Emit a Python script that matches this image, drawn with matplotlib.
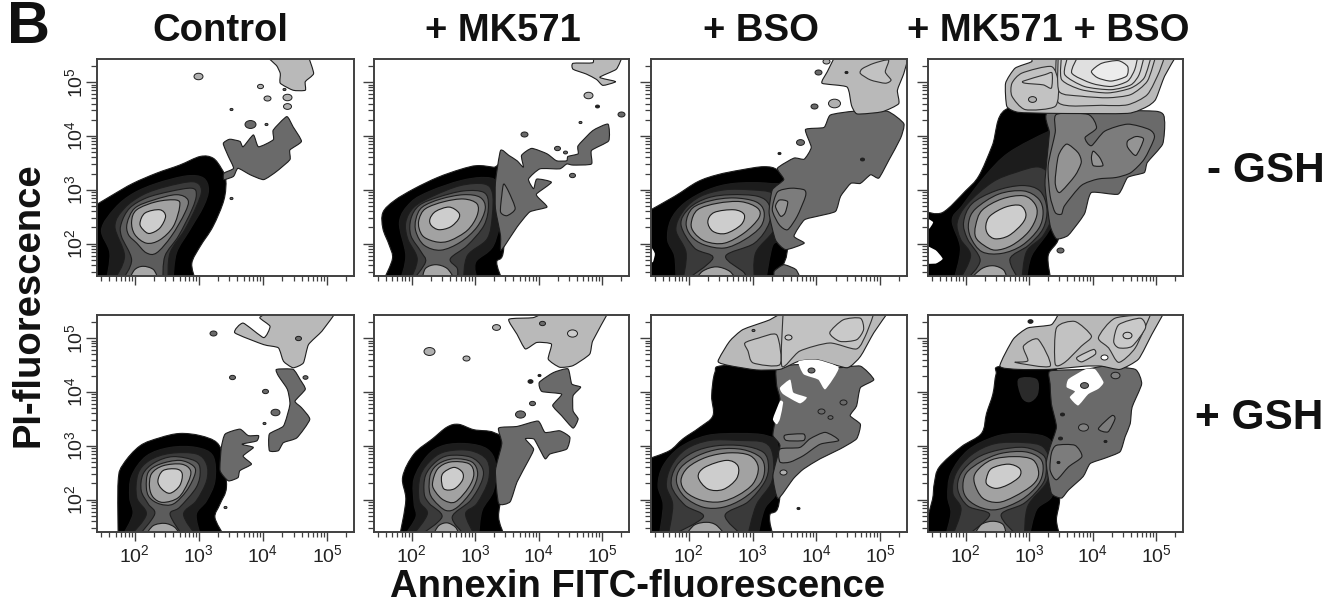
import numpy as np
import matplotlib
matplotlib.use("Agg")
import matplotlib.pyplot as plt
from matplotlib.markers import MarkerStyle
from matplotlib.patches import PathPatch
from matplotlib.path import Path
from matplotlib.ticker import LogLocator, NullFormatter
from matplotlib.transforms import Affine2D

plt.rcParams['font.family'] = ['Liberation Sans', 'DejaVu Sans']

# all contours are (log10 annexin, log10 PI)
column_titles = ['Control', '+ MK571', '+ BSO', '+ MK571 + BSO']
row_titles = ['- GSH', '+ GSH']

# ---------- top row, Control ----------
a1_main = [
    [(1.38,2.71),(1.66,2.91),(1.97,3.12),(2.34,3.31),(2.70,3.46),(3.02,3.62),(3.22,3.59),(3.35,3.40),(3.42,3.19),(3.39,2.81),(3.22,2.32),(3.02,1.95),(2.89,1.64),(2.94,1.35),(1.38,1.35)],
    [(1.48,2.26),(1.69,2.66),(1.97,2.93),(2.34,3.12),(2.81,3.26),(3.07,3.22),(3.15,3.00),(3.07,2.69),(2.86,2.26),(2.65,1.83),(2.60,1.35),(1.56,1.35),(1.61,1.83)],
    [(1.69,2.32),(1.84,2.66),(2.13,2.91),(2.49,3.06),(2.91,3.15),(3.04,3.00),(2.96,2.69),(2.78,2.26),(2.55,1.83),(2.52,1.35),(1.69,1.35),(1.84,1.77)],
    [(1.79,2.38),(1.92,2.66),(2.18,2.85),(2.55,2.97),(2.89,3.03),(2.96,2.91),(2.89,2.63),(2.68,2.14),(2.47,1.77),(2.44,1.35),(1.82,1.35),(1.95,1.70),(1.79,2.14)],
    [(1.88,2.38),(2.00,2.66),(2.29,2.81),(2.65,2.91),(2.83,2.81),(2.78,2.57),(2.57,2.14),(2.34,1.83),(2.18,1.83),(2.03,2.01),(1.90,2.17)],
    [(1.95,2.41),(2.03,2.63),(2.34,2.78),(2.65,2.81),(2.70,2.69),(2.60,2.32),(2.39,2.07),(2.18,2.01),(2.00,2.17)],
    [(2.08,2.38),(2.16,2.57),(2.39,2.63),(2.48,2.51),(2.39,2.29),(2.23,2.19),(2.13,2.26)],
    [(1.92,1.35),(2.00,1.52),(2.13,1.58),(2.29,1.52),(2.36,1.35)],
]
a1_mid = [
    [(3.38,3.86),(3.48,3.94),(3.64,3.90),(3.69,3.80),(3.85,4.02),(3.93,3.80),(4.16,3.93),(4.16,4.11),(4.37,4.36),(4.47,4.17),(4.60,3.90),(4.42,3.74),(4.42,3.56),(4.21,3.34),(4.01,3.19),(3.80,3.28),(3.61,3.40),(3.54,3.25),(3.39,3.19),(3.39,3.31),(3.54,3.40),(3.46,3.62)],
]
a1_light = [
    [(4.06,5.47),(4.71,5.47),(4.79,5.16),(4.66,5.01),(4.66,4.85),(4.47,4.85),(4.27,4.98),(4.27,5.16),(4.21,5.31)],
]
a1_mid_levels = []
a1_light_levels = []
a1_holes = []
a1_spots = [(2.98,5.12,9,'l'),(3.96,4.92,6,'l'),(4.06,4.70,7,'l'),(4.32,4.88,3,'m'),(4.38,4.73,9,'l'),(3.50,4.50,3,'m'),(3.80,4.23,11,'m'),(4.05,4.22,3,'m'),(4.38,4.55,8,'l'),(3.50,2.85,3,'m')]

# ---------- top row, + MK571 ----------
a2_main = [
    [(1.55,2.58),(1.73,2.80),(2.04,3.02),(2.41,3.23),(2.77,3.38),(3.03,3.45),(3.29,3.42),(3.45,3.38),(3.45,1.91),(3.34,1.66),(3.42,1.35),(1.57,1.35),(1.70,1.72),(1.65,1.97),(1.55,2.28)],
    [(1.81,2.40),(1.99,2.77),(2.30,2.98),(2.77,3.17),(3.14,3.23),(3.34,3.14),(3.42,2.65),(3.29,1.97),(3.01,1.66),(3.03,1.35),(1.83,1.35),(1.91,1.78)],
    [(1.91,2.40),(2.04,2.68),(2.35,2.89),(2.77,3.08),(3.14,3.11),(3.27,2.95),(3.27,2.52),(3.19,2.09),(2.88,1.78),(2.82,1.35),(1.99,1.35),(2.09,1.72),(1.94,2.09)],
    [(1.99,2.46),(2.12,2.71),(2.41,2.86),(2.82,2.98),(3.14,2.95),(3.21,2.71),(3.14,2.34),(2.88,1.97),(2.61,1.72),(2.72,1.54),(2.72,1.35),(2.04,1.35),(2.22,1.66),(2.15,1.85),(1.99,2.15)],
    [(2.07,2.46),(2.17,2.68),(2.46,2.83),(2.82,2.91),(3.08,2.86),(3.16,2.65),(3.03,2.31),(2.77,2.03),(2.46,1.88),(2.20,1.97),(2.07,2.22)],
    [(2.12,2.46),(2.22,2.65),(2.51,2.78),(2.82,2.83),(3.03,2.74),(3.03,2.52),(2.88,2.25),(2.61,2.06),(2.41,2.03),(2.20,2.12),(2.12,2.28)],
    [(2.29,2.46),(2.38,2.60),(2.59,2.68),(2.74,2.58),(2.74,2.46),(2.61,2.31),(2.43,2.26),(2.31,2.34)],
    [(2.17,1.35),(2.22,1.54),(2.38,1.61),(2.56,1.54),(2.67,1.35)],
]
a2_mid = [
    [(3.32,3.14),(3.40,3.73),(3.53,3.64),(3.66,3.54),(3.76,3.42),(3.73,3.64),(3.89,3.77),(4.13,3.67),(4.28,3.54),(4.44,3.54),(4.46,3.62),(4.62,3.67),(4.62,3.82),(4.85,4.10),(5.09,4.22),(5.10,3.91),(4.83,3.73),(4.83,3.48),(4.54,3.46),(4.44,3.48),(4.33,3.39),(4.02,3.39),(3.84,3.20),(3.92,3.02),(3.97,3.20),(4.20,3.14),(3.97,2.93),(3.99,2.86),(4.13,2.68),(3.86,2.59),(3.66,2.31),(3.47,1.97),(3.40,1.88),(3.40,2.15),(3.32,2.65)],
]
a2_light = [
    [(4.85,5.49),(5.32,5.49),(5.22,5.24),(4.96,5.09),(5.21,5.01),(5.01,4.94),(4.91,5.05),(4.75,5.15),(4.54,5.24),(4.54,5.35),(4.85,5.36)],
]
a2_mid_levels = [[[(3.45,3.11),(3.53,2.96),(3.63,2.65),(3.50,2.52),(3.40,2.59),(3.42,2.90)]]]
a2_light_levels = []
a2_holes = []
a2_spots = [(4.77,4.76,9,'l'),(4.91,4.55,4,'k'),(5.30,4.41,7,'m'),(3.77,4.04,7,'m'),(4.65,4.26,3,'m'),(4.29,3.77,6,'m'),(4.41,3.70,4,'m'),(4.53,3.28,6,'m')]

# ---------- top row, + BSO ----------
a3_main = [
    [(1.36,2.60),(1.78,2.88),(2.14,3.15),(2.45,3.28),(2.82,3.37),(3.18,3.43),(3.39,3.37),(3.55,3.12),(3.55,1.95),(3.47,1.58),(3.34,1.33),(1.36,1.33)],
    [(1.67,2.07),(1.72,2.44),(1.93,2.75),(2.30,3.00),(2.71,3.12),(3.26,3.12),(3.47,3.00),(3.44,2.14),(3.31,1.95),(3.21,1.33),(1.80,1.33),(1.78,1.77)],
    [(1.80,2.26),(1.93,2.63),(2.19,2.88),(2.56,3.00),(2.97,3.00),(3.31,2.94),(3.39,2.69),(3.34,2.26),(3.05,1.83),(3.03,1.33),(1.91,1.33),(1.96,1.83)],
    [(1.88,2.35),(2.01,2.66),(2.30,2.85),(2.66,2.91),(3.08,2.88),(3.26,2.72),(3.26,2.38),(3.03,2.01),(2.58,1.77),(2.87,1.46),(2.87,1.33),(1.96,1.33),(2.38,1.73),(2.09,1.92)],
    [(1.96,2.38),(2.06,2.66),(2.35,2.80),(2.71,2.85),(3.05,2.78),(3.18,2.60),(3.13,2.32),(2.87,2.07),(2.56,1.92),(2.24,1.98),(2.04,2.14)],
    [(2.04,2.38),(2.14,2.63),(2.45,2.75),(2.82,2.78),(3.08,2.66),(3.10,2.48),(2.87,2.20),(2.56,2.01),(2.27,2.04),(2.09,2.20)],
    [(2.30,2.41),(2.40,2.58),(2.71,2.63),(2.87,2.54),(2.82,2.35),(2.58,2.19),(2.38,2.23)],
    [(2.11,1.33),(2.22,1.49),(2.43,1.57),(2.64,1.49),(2.74,1.33)],
]
a3_mid = [
    [(3.39,3.40),(3.65,3.59),(3.81,3.57),(3.92,3.79),(3.83,4.12),(4.12,4.16),(4.22,4.39),(4.59,4.46),(5.11,4.46),(5.37,4.23),(5.32,3.96),(5.14,3.56),(4.98,3.22),(4.85,3.28),(4.69,3.12),(4.54,3.12),(4.38,2.88),(4.30,2.60),(4.02,2.51),(3.81,2.44),(3.65,2.14),(3.81,2.01),(3.52,1.89),(3.36,2.07),(3.26,2.57),(3.31,3.00),(3.49,3.19)],
    [(3.34,1.49),(3.49,1.61),(3.68,1.52),(3.76,1.33),(3.34,1.33)],
]
a3_light = [
    [(4.30,5.50),(5.45,5.50),(5.37,5.16),(5.27,4.85),(5.29,4.60),(5.03,4.45),(4.64,4.41),(4.55,4.57),(4.48,4.91),(4.09,4.98),(4.17,5.19)],
]
a3_mid_levels = [
    [[(3.39,2.96),(3.60,3.03),(3.81,3.00),(3.83,2.88),(3.70,2.51),(3.55,2.26),(3.42,2.35),(3.31,2.63)]],
    [[(3.42,2.81),(3.55,2.78),(3.51,2.57),(3.44,2.51),(3.36,2.69)]],
]
a3_light_levels = [[[(4.72,5.25),(4.90,5.35),(5.13,5.41),(5.08,5.19),(5.17,5.04),(5.08,4.98),(4.85,5.04),(4.69,5.16)]]]
a3_holes = [[(1.38,2.00),(1.47,1.82),(1.44,1.66),(1.38,1.66)]]
a3_spots = [(4.28,4.62,12,'l'),(3.97,4.56,7,'m'),(4.02,5.19,7,'m'),(3.74,3.88,8,'m'),(3.41,3.68,3,'k'),(4.72,3.57,4,'k'),(4.46,5.18,3,'k'),(4.15,5.40,7,'l')]

# ---------- top row, + MK571 + BSO ----------
a4_main = [
    [(1.37,2.60),(1.64,2.58),(2.00,2.98),(2.21,3.26),(2.42,3.82),(2.63,4.49),(3.41,4.49),(3.41,2.52),(3.46,2.09),(3.30,1.78),(3.34,1.35),(1.37,1.35)],
    [(1.79,2.43),(1.95,2.71),(2.31,3.26),(2.68,3.69),(3.28,4.07),(3.41,4.07),(3.41,2.58),(3.30,2.22),(3.04,1.78),(2.96,1.35),(1.82,1.35),(1.92,1.91)],
    [(1.87,2.40),(2.03,2.74),(2.42,3.14),(2.78,3.32),(3.17,3.42),(3.38,3.14),(3.38,2.58),(3.22,2.15),(2.96,1.85),(2.89,1.35),(1.92,1.35),(2.08,1.78),(1.92,2.09)],
    [(1.97,2.40),(2.10,2.74),(2.47,2.98),(2.89,3.08),(3.17,2.98),(3.28,2.65),(3.22,2.28),(2.99,1.97),(2.70,1.72),(2.83,1.35),(2.03,1.35),(2.23,1.69),(2.03,2.09)],
    [(2.05,2.40),(2.16,2.65),(2.52,2.92),(2.91,2.98),(3.15,2.83),(3.22,2.58),(3.15,2.28),(2.89,1.97),(2.57,1.82),(2.26,1.85),(2.08,2.12)],
    [(2.16,2.34),(2.26,2.62),(2.57,2.83),(2.91,2.89),(3.09,2.74),(3.12,2.52),(2.99,2.22),(2.73,1.97),(2.47,1.88),(2.29,1.97),(2.16,2.12)],
    [(2.32,2.34),(2.39,2.52),(2.63,2.68),(2.86,2.71),(2.95,2.55),(2.89,2.37),(2.68,2.15),(2.47,2.09),(2.35,2.18)],
    [(2.08,1.35),(2.26,1.54),(2.44,1.59),(2.60,1.51),(2.65,1.35)],
]
a4_mid = [
    [(3.33,4.46),(4.99,4.46),(5.13,4.28),(5.10,3.85),(4.86,3.51),(4.81,3.32),(4.55,3.23),(4.40,2.92),(3.98,2.95),(3.88,2.58),(3.80,2.43),(3.61,2.15),(3.43,2.09),(3.33,2.34),(3.25,3.08),(3.28,3.57),(3.32,4.06)],
]
a4_light = [
    [(3.02,5.48),(5.31,5.48),(5.13,5.11),(4.99,4.68),(4.86,4.55),(4.55,4.42),(3.41,4.42),(2.83,4.44),(2.65,4.55),(2.63,4.98),(2.78,5.26),(3.04,5.38)],
]
a4_mid_levels = [
    [[(3.43,4.40),(3.93,4.40),(4.06,4.15),(3.88,3.97),(3.98,3.82),(4.19,4.09),(4.55,4.22),(4.89,4.12),(4.97,3.97),(4.81,3.57),(4.60,3.32),(4.37,3.23),(4.08,3.20),(3.82,3.08),(3.56,2.71),(3.51,2.55),(3.41,2.58),(3.33,2.89),(3.30,3.45),(3.41,4.06)]],
    [[(3.59,3.85),(3.77,3.69),(3.82,3.51),(3.72,3.26),(3.48,2.95),(3.41,3.14),(3.46,3.63)],
     [(4.55,3.91),(4.68,3.99),(4.80,3.94),(4.68,3.64),(4.55,3.79)],
     [(4.01,3.72),(4.11,3.60),(4.16,3.45),(4.01,3.45),(3.98,3.60)]],
]
a4_light_levels = [
    [[(3.46,4.62),(4.14,4.57),(4.55,4.58),(4.86,4.77),(5.05,5.20),(5.13,5.48),(3.43,5.48)],
     [(2.73,4.98),(2.89,5.17),(3.35,5.29),(3.46,4.98),(3.41,4.55),(2.94,4.49),(2.73,4.74)]],
    [[(3.47,4.83),(3.82,4.74),(4.24,4.71),(4.60,4.77),(4.86,5.02),(4.99,5.48),(3.46,5.48)],
     [(2.91,5.02),(3.25,5.14),(3.36,5.17),(3.35,4.89),(3.22,4.95),(2.94,4.98)]],
    [[(3.51,5.05),(3.82,4.86),(4.24,4.80),(4.60,4.89),(4.81,5.08),(4.92,5.48),(3.51,5.48)]],
    [[(3.56,5.14),(3.87,4.92),(4.29,4.86),(4.60,4.95),(4.73,5.14),(4.81,5.48),(3.61,5.48)]],
    [[(3.67,5.17),(3.98,4.98),(4.29,4.92),(4.55,5.02),(4.66,5.23),(4.71,5.48),(3.77,5.48)]],
    [[(3.98,5.20),(4.14,5.35),(4.40,5.40),(4.55,5.29),(4.53,5.11),(4.29,5.02),(4.08,5.08)]],
]
a4_holes = [
    [(1.37,2.49),(1.49,2.40),(1.43,2.28),(1.37,2.28)],
    [(1.37,1.97),(1.53,1.88),(1.64,1.72),(1.53,1.63),(1.37,1.63)],
]
a4_spots = [(3.04,4.69,8,'l'),(3.48,1.88,7,'m')]

# ---------- bottom row, Control ----------
b1_main = [
    [(1.74,1.36),(1.74,2.35),(1.82,2.66),(2.08,3.00),(2.39,3.15),(2.70,3.23),(3.02,3.19),(3.28,3.06),(3.38,2.78),(3.43,2.23),(3.33,1.92),(3.25,1.67),(3.38,1.36)],
    [(1.92,2.04),(1.95,2.44),(2.18,2.81),(2.55,2.97),(2.96,2.97),(3.22,2.81),(3.25,2.35),(3.12,1.98),(2.96,1.73),(3.02,1.36),(1.82,1.36),(1.97,1.73)],
    [(2.03,2.04),(2.05,2.48),(2.23,2.73),(2.55,2.86),(2.96,2.85),(3.12,2.66),(3.12,2.35),(2.96,1.98),(2.76,1.73),(2.94,1.36),(1.95,1.36),(2.18,1.73)],
    [(2.10,2.17),(2.13,2.48),(2.31,2.69),(2.60,2.80),(2.94,2.72),(3.02,2.54),(2.96,2.23),(2.70,1.86),(2.55,1.73),(2.73,1.36),(2.08,1.36),(2.31,1.73),(2.21,1.92)],
    [(2.18,2.23),(2.21,2.51),(2.39,2.66),(2.70,2.73),(2.91,2.63),(2.94,2.48),(2.81,2.17),(2.60,1.92),(2.39,1.92),(2.23,2.04)],
    [(2.23,2.23),(2.26,2.48),(2.44,2.63),(2.73,2.66),(2.87,2.54),(2.83,2.32),(2.68,2.04),(2.44,1.95),(2.29,2.04)],
    [(2.36,2.35),(2.44,2.54),(2.65,2.57),(2.74,2.48),(2.70,2.26),(2.55,2.12),(2.42,2.20)],
    [(2.18,1.36),(2.29,1.52),(2.47,1.56),(2.62,1.49),(2.70,1.36)],
]
b1_mid = [
    [(3.41,3.22),(3.64,3.31),(3.77,3.19),(3.93,3.19),(3.90,3.09),(3.67,3.03),(3.85,2.97),(3.69,2.81),(3.82,2.66),(3.64,2.54),(3.61,2.41),(3.46,2.35),(3.33,2.54),(3.35,2.97)],
    [(4.21,4.42),(4.47,4.42),(4.58,4.23),(4.66,4.05),(4.50,3.83),(4.60,3.71),(4.73,3.49),(4.53,3.15),(4.32,3.06),(4.24,2.91),(4.10,2.91),(4.10,3.22),(4.32,3.37),(4.42,3.77),(4.38,4.05),(4.24,4.30)],
]
b1_light = [
    [(4.11,5.50),(5.15,5.50),(4.92,5.13),(4.71,4.88),(4.63,4.54),(4.47,4.45),(4.32,4.57),(4.24,4.82),(4.01,4.88),(3.56,5.10),(3.69,5.28),(4.01,5.01),(4.11,5.22),(3.95,5.38)],
]
b1_mid_levels = []
b1_light_levels = []
b1_holes = []
b1_spots = [(3.22,5.09,7,'m'),(4.55,5.01,6,'m'),(3.52,4.28,6,'m'),(4.03,4.02,6,'m'),(4.18,3.63,9,'m'),(4.02,3.42,3,'m'),(3.41,1.87,3,'m'),(4.66,4.28,5,'m')]

# ---------- bottom row, + MK571 ----------
b2_main = [
    [(1.82,1.37),(1.91,1.99),(1.86,2.42),(2.04,2.85),(2.33,3.13),(2.56,3.35),(2.74,3.40),(2.98,3.30),(3.29,3.25),(3.45,3.04),(3.42,2.17),(3.37,1.68),(3.45,1.37)],
    [(2.04,1.93),(2.04,2.39),(2.25,2.82),(2.51,3.01),(2.88,3.04),(3.19,2.94),(3.32,2.67),(3.29,2.17),(3.11,1.80),(3.06,1.37),(1.91,1.37),(2.07,1.68)],
    [(2.12,1.99),(2.14,2.45),(2.33,2.76),(2.56,2.90),(2.93,2.91),(3.19,2.73),(3.21,2.36),(3.03,1.93),(2.85,1.74),(2.98,1.37),(2.04,1.37),(2.25,1.74)],
    [(2.20,2.11),(2.22,2.45),(2.38,2.70),(2.59,2.82),(2.93,2.79),(3.11,2.60),(3.11,2.36),(2.93,1.99),(2.64,1.68),(2.82,1.37),(2.17,1.37),(2.48,1.68),(2.28,1.93)],
    [(2.28,2.17),(2.30,2.48),(2.43,2.67),(2.67,2.76),(2.95,2.70),(3.04,2.48),(2.95,2.17),(2.72,1.86),(2.54,1.80),(2.35,1.99)],
    [(2.33,2.30),(2.41,2.57),(2.61,2.70),(2.90,2.67),(2.98,2.48),(2.90,2.23),(2.69,1.96),(2.51,1.99),(2.38,2.14)],
    [(2.47,2.39),(2.51,2.51),(2.67,2.60),(2.80,2.51),(2.80,2.36),(2.67,2.20),(2.51,2.20)],
    [(2.35,1.37),(2.43,1.52),(2.56,1.57),(2.69,1.49),(2.74,1.37)],
]
b2_mid = [
    [(3.37,3.33),(3.66,3.36),(3.99,3.46),(4.10,3.25),(4.33,3.28),(4.49,3.16),(4.44,2.94),(4.18,2.85),(4.10,2.76),(3.97,3.04),(3.92,3.13),(3.79,3.13),(3.92,2.94),(3.84,2.73),(3.66,2.33),(3.55,1.96),(3.37,1.93),(3.32,2.54),(3.42,3.04)],
    [(4.46,4.43),(4.52,4.15),(4.66,4.09),(4.54,3.93),(4.54,3.65),(4.62,3.50),(4.54,3.33),(4.36,3.56),(4.22,3.75),(4.36,3.96),(4.05,4.01),(4.01,4.18),(4.23,4.36)],
]
b2_light = [
    [(3.53,5.35),(3.91,5.38),(4.07,5.47),(5.09,5.47),(4.85,4.95),(4.80,4.70),(4.54,4.49),(4.33,4.46),(4.15,4.61),(4.20,4.89),(3.97,4.92),(3.79,4.80),(3.66,5.07)],
]
b2_mid_levels = []
b2_light_levels = []
b2_holes = []
b2_spots = [(4.52,5.10,10,'c'),(2.28,4.77,11,'l'),(2.85,4.63,7,'l'),(3.33,5.20,8,'l'),(4.05,5.29,6,'m'),(3.86,4.21,5,'k'),(4.00,4.31,3,'k'),(3.89,3.79,6,'m'),(3.70,3.59,10,'m')]

# ---------- bottom row, + BSO ----------
b3_main = [
    [(1.37,2.76),(1.70,2.91),(1.91,3.13),(2.17,3.34),(2.38,3.56),(2.36,3.93),(2.41,4.36),(2.54,4.49),(3.43,4.49),(3.43,2.08),(3.27,1.71),(3.32,1.35),(1.37,1.35)],
    [(1.52,2.26),(1.60,2.63),(1.86,2.97),(2.28,3.19),(2.80,3.23),(3.22,3.19),(3.40,3.00),(3.40,2.20),(3.19,1.83),(3.09,1.35),(1.54,1.35),(1.60,1.90)],
    [(1.65,2.26),(1.73,2.63),(1.96,2.94),(2.33,3.10),(2.80,3.10),(3.19,3.06),(3.32,2.82),(3.30,2.33),(3.06,1.90),(2.93,1.35),(1.68,1.35),(1.75,1.90)],
    [(1.73,2.26),(1.81,2.63),(2.07,2.88),(2.43,3.00),(2.85,3.00),(3.17,2.88),(3.25,2.63),(3.19,2.33),(2.93,1.96),(2.57,1.71),(2.83,1.35),(1.75,1.35),(2.23,1.68),(1.94,1.90)],
    [(1.81,2.33),(1.88,2.60),(2.15,2.82),(2.49,2.94),(2.85,2.93),(3.12,2.79),(3.19,2.57),(3.12,2.30),(2.85,2.02),(2.54,1.86),(2.23,1.86),(1.94,2.05)],
    [(1.88,2.36),(1.99,2.60),(2.28,2.79),(2.64,2.87),(2.96,2.82),(3.09,2.60),(3.01,2.30),(2.77,2.08),(2.49,1.96),(2.20,1.99),(1.96,2.14)],
    [(2.15,2.42),(2.25,2.60),(2.59,2.73),(2.77,2.63),(2.75,2.39),(2.54,2.19),(2.30,2.20)],
    [(1.96,1.35),(2.09,1.53),(2.28,1.58),(2.43,1.53),(2.57,1.35)],
]
b3_mid = [
    [(3.38,4.45),(3.74,4.51),(4.32,4.45),(4.69,4.48),(4.90,4.23),(4.69,4.08),(4.63,3.74),(4.53,3.56),(4.69,3.40),(4.63,3.13),(4.37,2.94),(4.06,2.76),(3.80,2.57),(3.64,2.39),(3.40,2.02),(3.32,2.45),(3.43,3.00),(3.32,3.19),(3.35,3.43),(3.43,3.86),(3.38,4.11)],
]
b3_light = [
    [(2.46,4.57),(2.64,4.94),(2.85,5.16),(3.27,5.34),(3.48,5.49),(5.13,5.49),(4.90,5.10),(4.69,4.66),(4.48,4.45),(4.01,4.60),(3.72,4.57),(3.43,4.42),(3.06,4.41),(2.64,4.49)],
]
b3_mid_levels = [[
    [(3.43,2.94),(3.74,2.97),(3.90,3.13),(4.14,3.25),(4.35,3.10),(4.06,3.03),(3.80,2.82),(3.59,2.70),(3.43,2.70)],
    [(3.51,3.20),(3.80,3.22),(3.80,3.10),(3.53,3.10)],
]]
b3_light_levels = [
    [[(3.46,4.48),(3.74,4.76),(4.21,4.91),(4.63,4.80),(4.79,5.10),(4.90,5.46),(3.48,5.46)],
     [(2.88,4.91),(3.09,5.00),(3.38,5.06),(3.43,4.51),(3.01,4.54),(2.93,4.76)]],
    [[(4.21,5.10),(4.42,5.34),(4.69,5.37),(4.74,5.16),(4.63,4.97),(4.37,4.94)]],
]
b3_holes = [
    [(3.72,4.57),(4.01,4.60),(4.35,4.45),(4.14,4.05),(4.03,4.23),(3.80,4.33)],
    [(3.43,4.08),(3.59,4.23),(3.64,3.99),(3.85,3.90),(3.74,3.79),(3.48,3.96)],
    [(3.43,3.83),(3.48,3.80),(3.43,3.50),(3.38,3.40),(3.32,3.50)],
]
b3_spots = [(3.92,4.40,7,'m'),(4.41,3.82,7,'m'),(4.08,3.65,7,'m'),(4.21,3.53,5,'m'),(3.47,2.52,7,'l'),(3.72,1.85,3,'k'),(3.56,5.03,7,'c'),(3.00,5.15,3,'m')]

# ---------- bottom row, + MK571 + BSO ----------
b4_main = [
    [(1.39,1.63),(1.48,2.00),(1.51,2.31),(1.59,2.61),(1.93,2.98),(2.25,3.23),(2.33,3.60),(2.43,3.96),(2.48,4.33),(2.56,4.48),(3.41,4.48),(3.46,2.55),(3.48,2.00),(3.43,1.63),(3.48,1.35),(1.35,1.35)],
    [(1.72,2.06),(1.77,2.49),(2.04,2.92),(2.46,3.17),(2.83,3.23),(3.25,3.17),(3.38,2.92),(3.38,2.12),(3.12,1.82),(3.01,1.35),(1.69,1.35),(1.77,1.75)],
    [(1.80,2.12),(1.85,2.49),(2.09,2.83),(2.46,3.04),(2.93,3.06),(3.22,2.98),(3.33,2.67),(3.27,2.31),(2.98,1.88),(2.93,1.35),(1.80,1.35),(1.93,1.82)],
    [(1.88,2.18),(1.93,2.49),(2.17,2.77),(2.51,2.92),(2.93,2.97),(3.22,2.83),(3.27,2.61),(3.22,2.31),(2.93,1.94),(2.56,1.72),(2.80,1.35),(2.04,1.35),(2.38,1.72),(2.04,1.88)],
    [(1.96,2.21),(2.01,2.49),(2.25,2.71),(2.56,2.86),(2.93,2.89),(3.17,2.77),(3.22,2.55),(3.14,2.28),(2.88,2.00),(2.51,1.82),(2.25,1.85),(2.04,2.00)],
    [(2.14,2.31),(2.17,2.52),(2.41,2.74),(2.77,2.80),(3.06,2.74),(3.15,2.49),(3.06,2.28),(2.77,2.06),(2.51,1.95),(2.27,2.03)],
    [(2.33,2.40),(2.41,2.58),(2.67,2.66),(2.85,2.58),(2.85,2.43),(2.67,2.28),(2.48,2.21),(2.34,2.28)],
    [(2.14,1.35),(2.25,1.54),(2.43,1.60),(2.59,1.54),(2.64,1.35)],
]
b4_mid = [
    [(3.33,4.39),(3.88,4.42),(4.19,4.48),(4.67,4.42),(4.77,4.15),(4.62,3.72),(4.59,3.41),(4.51,3.17),(4.43,2.89),(4.19,2.77),(3.96,2.67),(3.85,2.43),(3.62,2.18),(3.51,2.03),(3.35,2.12),(3.27,2.67),(3.33,2.98),(3.43,3.35),(3.35,3.78),(3.33,4.15)],
]
b4_light = [
    [(2.54,4.48),(2.75,4.98),(2.98,5.19),(3.35,5.25),(3.48,5.49),(5.12,5.47),(4.93,5.07),(4.72,4.61),(4.43,4.42),(4.14,4.48),(3.88,4.48),(3.33,4.42),(2.83,4.42)],
]
b4_dark_spot = [(2.83,4.24),(3.12,4.24),(3.14,3.96),(3.01,3.81),(2.88,3.90)]
b4_mid_levels = [[
    [(3.43,3.01),(3.72,3.01),(3.83,2.80),(3.62,2.61),(3.43,2.37),(3.33,2.55),(3.35,2.86)],
    [(4.09,3.32),(4.30,3.56),(4.35,3.50),(4.24,3.26)],
]]
b4_light_levels = [
    [[(2.91,4.85),(3.14,4.98),(3.33,4.48),(2.78,4.55),(2.98,4.58)],
     [(3.43,5.19),(3.72,5.31),(3.98,5.04),(3.82,4.85),(3.56,4.55),(3.41,4.52)],
     [(4.09,5.01),(4.35,5.37),(4.91,5.44),(4.67,4.82),(4.41,4.55),(4.25,4.82)]],
    [[(4.33,4.94),(4.41,5.25),(4.75,5.37),(4.83,5.19),(4.62,4.85),(4.41,4.82)],
     [(3.75,4.64),(4.01,4.79),(4.04,4.70),(3.83,4.56)]],
]
b4_holes = [[(3.62,4.24),(3.88,4.42),(4.04,4.42),(4.17,4.18),(4.09,4.06),(3.93,3.96),(3.77,3.75),(3.64,3.90),(3.72,4.01),(3.59,4.09)]]
b4_spots = [(3.87,4.13,8,'m'),(3.85,3.35,10,'n'),(3.52,3.60,4,'k'),(3.48,3.15,4,'k'),(4.19,3.09,3,'k'),(3.46,2.70,3,'k'),(4.35,4.32,9,'n'),(4.54,5.05,9,'c'),(4.17,4.65,7,'w'),(3.01,5.31,5,'k')]

panels = [
    (a1_main, a1_mid, a1_mid_levels, a1_light, a1_light_levels, a1_holes, a1_spots),
    (a2_main, a2_mid, a2_mid_levels, a2_light, a2_light_levels, a2_holes, a2_spots),
    (a3_main, a3_mid, a3_mid_levels, a3_light, a3_light_levels, a3_holes, a3_spots),
    (a4_main, a4_mid, a4_mid_levels, a4_light, a4_light_levels, a4_holes, a4_spots),
    (b1_main, b1_mid, b1_mid_levels, b1_light, b1_light_levels, b1_holes, b1_spots),
    (b2_main, b2_mid, b2_mid_levels, b2_light, b2_light_levels, b2_holes, b2_spots),
    (b3_main, b3_mid, b3_mid_levels, b3_light, b3_light_levels, b3_holes, b3_spots),
    (b4_main, b4_mid, b4_mid_levels, b4_light, b4_light_levels, b4_holes, b4_spots),
]

# ---------- styling ----------
W, H = 1341, 603
col_px = [(97, 354), (374, 629), (651, 907), (928, 1183)]
row_px = [(59, 276), (315, 532)]

MAIN_SHADES = ['#000000', '#1c1c1c', '#3a3a3a', '#5c5c5c', '#7e7e7e', '#a2a2a2', '#cdcdcd', '#a8a8a8']
MID_BASE = '#6a6a6a'
MID_SHADES = ['#7c7c7c', '#949494']
LIGHT_BASE = '#b9b9b9'
LIGHT_SHADES = ['#c2c2c2', '#c9c9c9', '#d0d0d0', '#d8d8d8', '#e0e0e0', '#ececec']
SPOT_SHADES = {'m': '#6a6a6a', 'l': '#b0b0b0', 'k': '#222222', 'c': '#cccccc', 'n': '#808080', 'w': '#ffffff'}
LINE = '#1e1e1e'
TICK = '#404040'


def blob_path(points, tension):
    # closed Catmull-Rom through the read points; points outside the frame stay sharp corners
    p = np.array(points, dtype=float)
    prev, nxt = np.roll(p, 1, 0), np.roll(p, -1, 0)
    tan = (nxt - prev) * tension
    outside = (p[:, 1] < 1.40) | (p[:, 1] > 5.43) | (p[:, 0] < 1.41)
    tan[outside] = 0
    verts = [p[0]]
    codes = [Path.MOVETO]
    for i in range(len(p)):
        j = (i + 1) % len(p)
        verts += [p[i] + tan[i], p[j] - tan[j], p[j]]
        codes += [Path.CURVE4] * 3
    return Path(10 ** np.array(verts), codes)


def add_blob(ax, points, shade, lw=0.8, edge=LINE, tension=1 / 6):
    ax.add_patch(PathPatch(blob_path(points, tension), facecolor=shade, edgecolor=edge, linewidth=lw))


def frame(col, row):
    x0, x1 = col_px[col]
    y0, y1 = row_px[row]
    return [x0 / W, 1 - y1 / H, (x1 - x0) / W, (y1 - y0) / H]


fig = plt.figure(figsize=(W / 100, H / 100), dpi=100, facecolor='white')
spot_marker = MarkerStyle(Path.unit_circle().transformed(Affine2D().scale(1, 0.72)))

for i, (main, mid, mid_levels, light, light_levels, holes, spots) in enumerate(panels):
    row, col = divmod(i, 4)
    ax = fig.add_axes(frame(col, row))
    ax.set_xscale('log')
    ax.set_yscale('log')
    ax.set_xlim(10 ** 1.41, 10 ** 5.42)
    ax.set_ylim(10 ** 1.40, 10 ** 5.43)

    for level, pts in enumerate(main):
        add_blob(ax, pts, MAIN_SHADES[level])
    if main is b4_main:
        add_blob(ax, b4_dark_spot, '#2a2a2a', lw=0)

    # jagged gated regions get tighter curves than the main population
    for pts in mid:
        add_blob(ax, pts, MID_BASE, tension=0.09)
    for level, group in enumerate(mid_levels):
        for pts in group:
            add_blob(ax, pts, MID_SHADES[level], tension=0.12)
    for pts in light:
        add_blob(ax, pts, LIGHT_BASE, tension=0.09)
    for level, group in enumerate(light_levels):
        for pts in group:
            add_blob(ax, pts, LIGHT_SHADES[level], edge='#333333', tension=0.12)
    for pts in holes:
        add_blob(ax, pts, 'white', lw=0, tension=0.09)

    for x, y, size, kind in spots:
        ax.scatter(10 ** x, 10 ** y, s=(size * 0.72) ** 2, marker=spot_marker,
                   facecolor=SPOT_SHADES[kind], edgecolor=LINE, linewidth=0.7, zorder=5)

    for side in ax.spines.values():
        side.set_color(TICK)
        side.set_linewidth(1.4)
    ax.spines['top'].set_zorder(6)

    for axis in (ax.xaxis, ax.yaxis):
        axis.set_major_locator(LogLocator(base=10, numticks=10))
        axis.set_minor_locator(LogLocator(base=10, subs=range(2, 10), numticks=10))
        axis.set_minor_formatter(NullFormatter())
    ax.tick_params(axis='x', which='major', length=6.5, width=1, color=TICK, labelsize=14, pad=2, labelcolor='#222222', labelbottom=row == 1)
    ax.tick_params(axis='x', which='minor', length=3.6, width=0.9, color=TICK)
    ax.tick_params(axis='y', which='major', length=8, width=1, color=TICK, labelsize=14, pad=0, labelcolor='#222222', labelleft=col == 0, labelrotation=90)
    ax.tick_params(axis='y', which='minor', length=4.2, width=0.9, color=TICK)
    for lab in ax.get_yticklabels():
        lab.set_va('center')

title_font = dict(fontsize=27.5, fontweight='bold', color='#111111', ha='center', va='center')
title_x = [220, 503, 761, 1048]
for name, x in zip(column_titles, title_x):
    fig.text(x / W, 1 - 31 / H, name, **title_font)
row_font = dict(title_font, fontsize=30.5)
fig.text(1266 / W, 1 - 171 / H, row_titles[0], **row_font)
fig.text(1259 / W, 1 - 418 / H, row_titles[1], **row_font)
fig.text(638 / W, 1 - 587 / H, 'Annexin FITC-fluorescence', **title_font)
fig.text(29 / W, 1 - 305 / H, 'PI-fluorescence', rotation=90, **title_font)
fig.text(7 / W, 1 - 43 / H, 'B', fontsize=43, fontweight='bold', color='#111111', ha='left', va='baseline')

fig.savefig('out.png', dpi=100)
